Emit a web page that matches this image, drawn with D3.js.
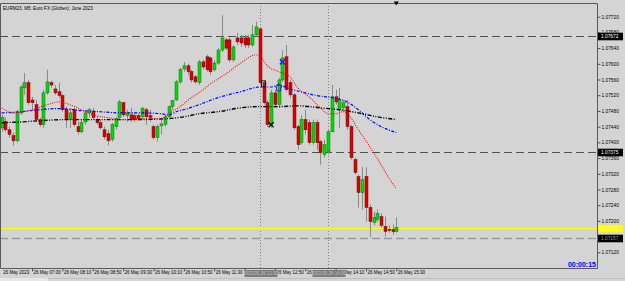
<!DOCTYPE html>
<html lang="en">
<head>
<meta charset="utf-8">
<title>EURM23 M5</title>
<script src="https://cdnjs.cloudflare.com/ajax/libs/d3/7.8.5/d3.min.js"></script>
<style>
  body { margin: 0; background: #d4d4d4; }
  svg { display: block; font-family: "Liberation Sans", Arial, sans-serif; }
</style>
</head>
<body>
<script>
// 5 minute bars
var opens = [1.07437,1.07453,1.07432,1.07417,1.07404,1.07475,1.07539,1.07552,1.07508,1.07496,
  1.07458,1.07445,1.07526,1.07552,1.07536,1.07529,1.07519,1.07483,1.07458,1.07483,
  1.07440,1.07427,1.07452,1.07475,1.07478,1.07458,1.07450,1.07432,1.07422,1.07407,
  1.07440,1.07463,1.07501,1.07468,1.07470,1.07468,1.07468,1.07465,1.07483,1.07468,
  1.07440,1.07412,1.07442,1.07445,1.07465,1.07491,1.07508,1.07554,1.07587,1.07595,
  1.07580,1.07567,1.07552,1.07605,1.07618,1.07615,1.07585,1.07602,1.07635,1.07661,
  1.07661,1.07610,1.07666,1.07666,1.07666,1.07666,1.07648,1.07674,1.07689,1.07552,
  1.07501,1.07445,1.07526,1.07496,1.07559,1.07618,1.07552,1.07521,1.07440,1.07399,
  1.07458,1.07450,1.07399,1.07450,1.07402,1.07369,1.07376,1.07427,1.07516,1.07483,
  1.07488,1.07491,1.07440,1.07356,1.07313,1.07272,1.07313,1.07234,1.07196,1.07204,
  1.07211,1.07186,1.07178,1.07178,1.07173];
var highs = [1.07470,1.07463,1.07440,1.07425,1.07483,1.07546,1.07577,1.07559,1.07516,1.07508,
  1.07463,1.07534,1.07585,1.07557,1.07546,1.07552,1.07524,1.07491,1.07488,1.07488,
  1.07452,1.07458,1.07483,1.07488,1.07488,1.07465,1.07458,1.07440,1.07432,1.07450,
  1.07465,1.07508,1.07503,1.07483,1.07488,1.07478,1.07473,1.07491,1.07488,1.07483,
  1.07445,1.07445,1.07458,1.07470,1.07493,1.07508,1.07559,1.07590,1.07605,1.07600,
  1.07585,1.07572,1.07610,1.07610,1.07623,1.07618,1.07610,1.07640,1.07724,1.07666,
  1.07666,1.07648,1.07679,1.07674,1.07674,1.07674,1.07699,1.07707,1.07694,1.07559,
  1.07508,1.07534,1.07534,1.07564,1.07635,1.07648,1.07559,1.07526,1.07445,1.07470,
  1.07483,1.07458,1.07458,1.07458,1.07407,1.07407,1.07432,1.07546,1.07534,1.07539,
  1.07508,1.07508,1.07445,1.07361,1.07318,1.07338,1.07336,1.07242,1.07224,1.07229,
  1.07219,1.07211,1.07188,1.07191,1.07209];
var lows = [1.07427,1.07427,1.07412,1.07392,1.07399,1.07470,1.07521,1.07496,1.07483,1.07452,
  1.07440,1.07437,1.07521,1.07539,1.07521,1.07513,1.07478,1.07437,1.07437,1.07440,
  1.07420,1.07422,1.07445,1.07463,1.07458,1.07445,1.07432,1.07407,1.07392,1.07402,
  1.07432,1.07458,1.07465,1.07452,1.07452,1.07452,1.07455,1.07458,1.07445,1.07452,
  1.07407,1.07402,1.07420,1.07440,1.07463,1.07483,1.07506,1.07549,1.07580,1.07572,
  1.07552,1.07549,1.07546,1.07585,1.07580,1.07572,1.07580,1.07597,1.07630,1.07635,
  1.07605,1.07605,1.07648,1.07643,1.07640,1.07640,1.07643,1.07669,1.07546,1.07496,
  1.07440,1.07437,1.07488,1.07488,1.07554,1.07529,1.07513,1.07432,1.07381,1.07394,
  1.07420,1.07394,1.07394,1.07381,1.07343,1.07361,1.07369,1.07425,1.07496,1.07437,
  1.07478,1.07432,1.07356,1.07318,1.07234,1.07229,1.07198,1.07158,1.07188,1.07198,
  1.07183,1.07160,1.07170,1.07165,1.07170];
var closes = [1.07463,1.07432,1.07420,1.07404,1.07475,1.07541,1.07552,1.07501,1.07501,1.07458,
  1.07445,1.07526,1.07554,1.07546,1.07526,1.07519,1.07483,1.07458,1.07475,1.07445,
  1.07427,1.07450,1.07475,1.07483,1.07463,1.07450,1.07437,1.07414,1.07404,1.07445,
  1.07460,1.07503,1.07470,1.07475,1.07458,1.07458,1.07460,1.07486,1.07465,1.07463,
  1.07412,1.07440,1.07447,1.07465,1.07491,1.07506,1.07554,1.07585,1.07595,1.07580,
  1.07559,1.07554,1.07605,1.07592,1.07585,1.07580,1.07602,1.07635,1.07666,1.07640,
  1.07610,1.07643,1.07656,1.07653,1.07648,1.07648,1.07674,1.07694,1.07552,1.07501,
  1.07445,1.07526,1.07496,1.07559,1.07615,1.07534,1.07521,1.07437,1.07394,1.07458,
  1.07432,1.07399,1.07450,1.07399,1.07374,1.07394,1.07427,1.07516,1.07503,1.07508,
  1.07501,1.07440,1.07361,1.07323,1.07272,1.07305,1.07234,1.07198,1.07209,1.07219,
  1.07188,1.07173,1.07176,1.07173,1.07183];

// moving averages (bar index / price)
var maRedBars = [0,3,8,12,15,18,21,24,28,32,37,42,44,47,50,52,55,59,63,67,68,70,73,76,78,81,84,86,88,90,92,94,96,98,100,102,104];
var maRedVals = [1.07488,1.07475,1.07483,1.07496,1.07503,1.07496,1.07483,1.07470,1.07463,1.07458,1.07460,1.07460,1.07473,1.07491,1.07514,1.07526,1.07549,1.07574,1.07602,1.07623,1.07620,1.07595,1.07580,1.07567,1.07539,1.07516,1.07488,1.07473,1.07473,1.07478,1.07463,1.07432,1.07404,1.07374,1.07343,1.07310,1.07282];
var maBlueBars = [0,5,10,15,21,26,31,37,42,44,46,49,52,57,63,68,71,73,76,80,83,87,91,94,97,100,104];
var maBlueVals = [1.07475,1.07478,1.07483,1.07486,1.07481,1.07478,1.07475,1.07475,1.07473,1.07470,1.07478,1.07486,1.07496,1.07514,1.07529,1.07541,1.07541,1.07546,1.07536,1.07526,1.07519,1.07514,1.07503,1.07483,1.07458,1.07440,1.07425];
var maBlackBars = [0,5,10,17,26,35,43,48,52,57,63,67,73,78,84,89,94,99,104];
var maBlackVals = [1.07450,1.07452,1.07455,1.07458,1.07458,1.07458,1.07460,1.07465,1.07473,1.07478,1.07488,1.07491,1.07491,1.07493,1.07488,1.07483,1.07475,1.07465,1.07458];

var priceTicks = [1.0772,1.0768,1.0764,1.0760,1.0756,1.0752,1.0748,1.0744,1.0740,1.0736,1.0732,1.0728,1.0724,1.0720,1.0716,1.0712];
var timeBars = [0,8,16,24,32,40,48,56,64,72,80,88,96,104];
var timeLabels = ["26 May 2023","26 May 07:00","26 May 08:10","26 May 08:50","26 May 09:30","26 May 10:10","26 May 10:50",
  "26 May 11:30","26 May 12:10","26 May 12:50","26 May 13:30","26 May 14:10","26 May 14:50","26 May 15:30"];

var levelPrices = [1.07672, 1.07375];
var bidPrice = 1.07182;
var askPrice = 1.07157;
var vlineBars = [68, 86];
var vlineLabels = ["2023.05.26 12:30", "2023.05.26 14:00"];

var W = 625, H = 281;
var plotR = 597, plotT = 3, plotB = 268;

var x = d3.scaleLinear().domain([0, 104]).range([1.7, 396.3]);
var y = d3.scaleLinear().domain([1.0712, 1.0772]).range([252.3, 16.7]);

var svg = d3.select("body").append("svg").attr("width", W).attr("height", H);

svg.append("rect").attr("width", W).attr("height", H).attr("fill", "#d4d4d4");

svg.append("defs").append("clipPath").attr("id", "plot")
  .append("rect").attr("x", 0).attr("y", plotT).attr("width", plotR).attr("height", plotB - plotT);

var g = svg.append("g").attr("clip-path", "url(#plot)");

// horizontal levels
g.selectAll(".lvl").data(levelPrices).enter().append("line")
  .attr("x1", 0).attr("x2", plotR)
  .attr("y1", function(d){ return Math.round(y(d)) + 0.5; })
  .attr("y2", function(d){ return Math.round(y(d)) + 0.5; })
  .attr("stroke", "#505050").attr("stroke-dasharray", "8,4");

// vertical dotted lines
g.selectAll(".vl").data(vlineBars).enter().append("line")
  .attr("x1", function(d){ return Math.round(x(d)) + 0.5; })
  .attr("x2", function(d){ return Math.round(x(d)) + 0.5; })
  .attr("y1", plotT).attr("y2", plotB)
  .attr("stroke", "#858585").attr("stroke-dasharray", "1,2");

g.append("line").attr("x1", 0).attr("x2", plotR)
  .attr("y1", Math.round(y(askPrice)) + 0.5).attr("y2", Math.round(y(askPrice)) + 0.5)
  .attr("stroke", "#9a9a9a").attr("stroke-width", 1.6).attr("stroke-dasharray", "8,4");
g.append("line").attr("x1", 0).attr("x2", plotR)
  .attr("y1", Math.round(y(bidPrice)) + 0.5).attr("y2", Math.round(y(bidPrice)) + 0.5)
  .attr("stroke", "#ffff00");

// candles
var idx = d3.range(opens.length);
g.selectAll(".wick").data(idx).enter().append("line")
  .attr("x1", function(i){ return Math.round(x(i)) + 0.5; })
  .attr("x2", function(i){ return Math.round(x(i)) + 0.5; })
  .attr("y1", function(i){ return y(highs[i]); })
  .attr("y2", function(i){ return y(lows[i]); })
  .attr("stroke", "#8a8a8a");

g.selectAll(".body").data(idx).enter().append("rect")
  .attr("x", function(i){ return Math.round(x(i)) - 1; })
  .attr("width", 3)
  .attr("y", function(i){ return y(Math.max(opens[i], closes[i])); })
  .attr("height", function(i){ return Math.max(1, Math.abs(y(opens[i]) - y(closes[i]))); })
  .attr("fill", function(i){ return closes[i] >= opens[i] ? "#00dd00" : "#dd0000"; })
  .attr("stroke", function(i){ return closes[i] >= opens[i] ? "#1f6a1f" : "#6a1010"; })
  .attr("stroke-width", 0.5);

// moving averages
function maLine(bars, vals) {
  return d3.line().curve(d3.curveMonotoneX)
    .x(function(d, i){ return x(bars[i]); })
    .y(function(d, i){ return y(vals[i]); })(bars);
}
g.append("path").attr("d", maLine(maBlackBars, maBlackVals))
  .attr("fill", "none").attr("stroke", "#000").attr("stroke-width", 1.4).attr("stroke-dasharray", "4,1.5,1,1.5,1,1.5");
g.append("path").attr("d", maLine(maBlueBars, maBlueVals))
  .attr("fill", "none").attr("stroke", "#0000ff").attr("stroke-width", 1.2).attr("stroke-dasharray", "3,1.5,1,1.5");
g.append("path").attr("d", maLine(maRedBars, maRedVals))
  .attr("fill", "none").attr("stroke", "#ff0000").attr("stroke-width", 1.1).attr("stroke-dasharray", "1,1.3");

// trade markers
var mk = svg.append("g").attr("fill", "none").attr("stroke-width", 1);
mk.append("rect").attr("x", x(69) - 2).attr("y", y(1.07549) - 3).attr("width", 4).attr("height", 6).attr("stroke", "#222");
mk.append("path").attr("d", "M" + (x(73) - 2) + "," + (y(1.07541) + 4) + "v-4h-1.5l3.5,-3.5l3.5,3.5h-1.5v4z").attr("stroke", "#2020ff");
mk.append("path").attr("d", "M" + (x(74) - 2.5) + "," + (y(1.07605) - 2.5) + "l5,5m0,-5l-5,5").attr("stroke", "#2020ff").attr("stroke-width", 1.5);
mk.append("path").attr("d", "M" + (x(71) - 2.5) + "," + (y(1.07445) - 2.5) + "l5,5m0,-5l-5,5").attr("stroke", "#111").attr("stroke-width", 1.3);

// frame
svg.append("path").attr("d", "M0.5," + plotB + ".5V" + plotT + ".5H" + plotR + ".5V" + plotB + ".5H0.5")
  .attr("fill", "none").attr("stroke", "#5a5a5a");

// price axis
var yAxis = d3.axisRight(y).tickValues(priceTicks).tickSize(3).tickFormat(d3.format(".5f"));
var ya = svg.append("g").attr("transform", "translate(" + (plotR + 0.5) + ",0)").call(yAxis);
ya.select(".domain").remove();
ya.selectAll(".tick line").attr("stroke", "#505050");
ya.selectAll(".tick text").attr("x", 4).attr("font-size", "4.8px").attr("font-family", "Liberation Sans").attr("fill", "#000");

// time axis
var xAxis = d3.axisBottom(x).tickValues(timeBars).tickSize(3)
  .tickFormat(function(d, i){ return timeLabels[i]; });
var xa = svg.append("g").attr("transform", "translate(0," + (plotB + 0.5) + ")").call(xAxis);
xa.select(".domain").remove();
xa.selectAll(".tick line").attr("stroke", "#505050").attr("opacity", function(d, i){ return i ? 1 : 0; });
xa.selectAll(".tick text").attr("text-anchor", "start").attr("x", 1).attr("y", 2).attr("dy", "0.71em")
  .attr("font-size", "4.5px").attr("font-family", "Liberation Sans").attr("fill", "#000");

// time boxes for the vertical lines
vlineBars.forEach(function(b, i){
  var cx = Math.round(x(b)) + 0.5;
  svg.append("rect").attr("x", cx - 16).attr("y", 270).attr("width", 33).attr("height", 7).attr("fill", "#7b7b7b");
  svg.append("text").attr("x", cx).attr("y", 275.3).attr("text-anchor", "middle")
    .attr("font-size", "4.5px").attr("fill", "#c4c4c4").text(vlineLabels[i]);
});

// price label boxes
function priceBox(p, bg, fg) {
  var cy = Math.round(y(p)) + 0.5;
  svg.append("rect").attr("x", plotR + 1).attr("y", cy - 3.8).attr("width", 25).attr("height", 7.6).attr("fill", bg);
  svg.append("text").attr("x", plotR + 4).attr("y", cy + 1.8).attr("font-size", "4.8px").attr("fill", fg)
    .text(d3.format(".5f")(p));
}
levelPrices.forEach(function(p){ priceBox(p, "#000", "#fff"); });
priceBox(bidPrice, "#ffff00", "#f4f4b0");
priceBox(askPrice, "#000", "#9a9a9a");

// title, timer, shift marker
svg.append("text").attr("x", 3).attr("y", 9.5).attr("font-size", "4.6px").attr("fill", "#000")
  .text("EURM23, M5: Euro FX (Globex): June 2023");
svg.append("text").attr("x", plotR - 1).attr("y", 267).attr("text-anchor", "end")
  .attr("font-size", "7px").attr("font-weight", "bold").attr("fill", "#0000ff").text("00:00:15");
svg.append("path").attr("d", "M" + (x(104) - 2.5) + ",1.5h5l-2.5,4z").attr("fill", "#000");

// tab strip at the bottom
svg.append("line").attr("x1", 48).attr("x2", W).attr("y1", 278.5).attr("y2", 278.5).attr("stroke", "#c0c0c0");
svg.append("rect").attr("x", 0).attr("y", 278).attr("width", 48).attr("height", 3).attr("fill", "#e6e6e6");
</script>
</body>
</html>
